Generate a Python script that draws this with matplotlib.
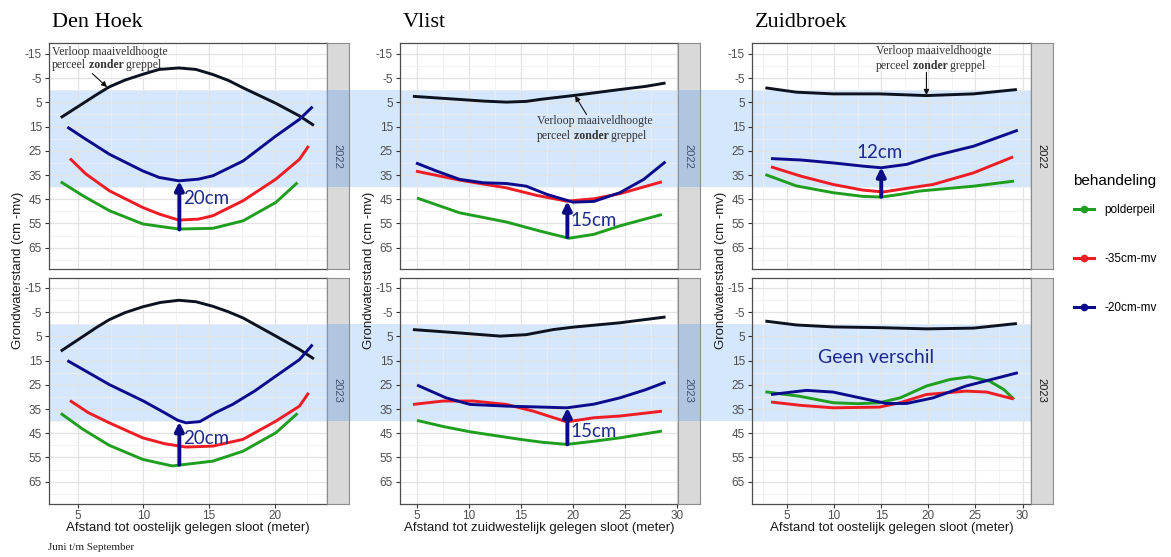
import matplotlib
matplotlib.use("Agg")
import matplotlib.pyplot as plt
from matplotlib.lines import Line2D
from matplotlib.patches import Rectangle
from matplotlib.transforms import blended_transform_factory

W, H = 1171, 557
plt.rcParams['font.family'] = ['Liberation Sans', 'DejaVu Sans']
plt.rcParams['axes.unicode_minus'] = False

GREEN, RED, BLUE, BLACK = '#1f9e1f', '#ee1c24', '#0b0b8c', '#0c1220'
NAVY_TXT = '#1d2a8c'

# ---------------- data ----------------
# Den Hoek 2022
dh22_mv_x = [3.7, 5.4, 6.4, 7.4, 8.6, 9.9, 11.2, 12.7, 14.0, 15.3, 16.5, 17.6, 20.1, 21.9, 23.0]
dh22_mv_y = [11.3, 5.4, 1.9, -1.4, -4.2, -6.5, -8.6, -9.2, -8.6, -6.5, -4.0, -1.0, 5.4, 10.6, 14.5]
dh22_b_x = [4.2, 5.4, 7.4, 9.95, 11.2, 12.7, 14.2, 15.3, 17.6, 20.1, 21.9, 22.9]
dh22_b_y = [15.2, 19.5, 26.4, 33.3, 36.0, 37.4, 36.7, 35.3, 29.2, 18.9, 12.0, 6.8]
dh22_r_x = [4.4, 5.6, 7.4, 9.95, 11.2, 12.7, 14.2, 15.3, 17.6, 20.1, 21.9, 22.6]
dh22_r_y = [28.2, 34.5, 41.5, 48.4, 51.1, 53.6, 53.2, 51.8, 45.6, 36.7, 28.5, 23.0]
dh22_g_x = [3.7, 5.4, 7.4, 9.95, 12.7, 15.3, 17.6, 20.1, 21.75]
dh22_g_y = [37.8, 43.6, 49.7, 55.2, 57.3, 57.0, 53.9, 46.3, 38.1]
# Den Hoek 2023
dh23_mv_x = [3.7, 5.4, 6.4, 7.4, 8.6, 9.95, 11.3, 12.7, 14.0, 15.3, 16.5, 17.6, 20.1, 21.9, 23.0]
dh23_mv_y = [11.1, 5.0, 1.4, -1.9, -4.8, -7.2, -9.0, -9.9, -9.3, -7.4, -5.1, -2.6, 4.9, 10.4, 14.3]
dh23_b_x = [4.2, 5.4, 7.4, 10.0, 11.7, 12.6, 13.25, 14.3, 15.5, 16.8, 18.5, 20.1, 21.9, 22.9]
dh23_b_y = [15.0, 18.7, 24.9, 31.7, 36.8, 39.6, 40.7, 40.2, 36.5, 33.1, 27.5, 21.4, 14.6, 8.4]
dh23_r_x = [4.4, 5.8, 7.4, 9.95, 11.6, 13.25, 15.3, 17.6, 20.1, 21.9, 22.6]
dh23_r_y = [31.5, 36.5, 40.7, 46.9, 49.3, 50.7, 50.3, 47.5, 40.0, 33.8, 28.3]
dh23_g_x = [3.7, 5.4, 7.4, 9.95, 12.2, 15.3, 17.6, 20.1, 21.75]
dh23_g_y = [36.8, 43.4, 50.0, 55.8, 58.5, 56.5, 52.4, 44.8, 36.8]

# Vlist 2022
vl22_mv_x = [4.6, 7.0, 9.1, 11.5, 13.6, 15.5, 17.0, 20.0, 22.0, 24.5, 27.0, 28.9]
vl22_mv_y = [2.5, 3.2, 3.8, 4.5, 4.9, 4.6, 3.7, 2.2, 1.1, -0.3, -1.6, -3.0]
vl22_b_x = [4.9, 6.9, 9.1, 11.4, 13.6, 15.5, 17.5, 20.0, 22.0, 24.5, 26.8, 28.9]
vl22_b_y = [30.0, 33.4, 36.8, 38.2, 38.5, 39.6, 43.0, 46.2, 45.9, 42.3, 36.8, 29.5]
vl22_r_x = [4.9, 9.1, 13.6, 16.5, 19.4, 22.0, 24.5, 28.55]
vl22_r_y = [33.4, 37.1, 40.3, 43.4, 45.8, 44.8, 42.7, 37.8]
vl22_g_x = [5.0, 9.1, 13.6, 16.8, 19.6, 22.0, 24.5, 28.55]
vl22_g_y = [44.5, 50.6, 54.4, 58.1, 61.1, 59.5, 56.0, 51.3]
# Vlist 2023
vl23_mv_x = [4.6, 9.1, 13.0, 15.5, 18.1, 20.0, 24.5, 28.9]
vl23_mv_y = [2.2, 3.6, 4.9, 4.3, 2.2, 1.2, -0.6, -3.0]
vl23_b_x = [5.0, 7.8, 10.1, 13.6, 17.0, 19.4, 22.0, 24.5, 27.0, 28.9]
vl23_b_y = [25.1, 30.4, 33.1, 33.8, 34.2, 34.5, 33.0, 30.4, 27.0, 23.9]
vl23_r_x = [4.6, 7.5, 10.4, 13.6, 16.2, 19.4, 22.0, 24.5, 28.55]
vl23_r_y = [33.1, 31.7, 31.7, 33.1, 35.9, 40.3, 38.6, 37.9, 35.9]
vl23_g_x = [5.0, 7.5, 10.1, 14.9, 17.0, 19.4, 22.0, 24.5, 28.55]
vl23_g_y = [39.7, 42.2, 44.4, 47.5, 48.7, 49.6, 48.3, 46.9, 44.1]

# Zuidbroek 2022
zb22_mv_x = [2.7, 6.0, 9.9, 14.8, 19.8, 24.8, 29.4]
zb22_mv_y = [-1.0, 0.8, 1.5, 1.5, 2.2, 1.5, -0.3]
zb22_b_x = [3.3, 6.5, 9.9, 13.0, 15.0, 17.7, 20.5, 24.8, 29.5]
zb22_b_y = [28.2, 28.8, 30.0, 31.3, 32.0, 30.6, 27.2, 23.1, 16.5]
zb22_r_x = [3.3, 6.5, 9.9, 13.0, 15.2, 17.7, 20.5, 24.8, 29.0]
zb22_r_y = [31.6, 35.5, 38.9, 41.2, 42.0, 40.5, 38.9, 34.1, 27.5]
zb22_g_x = [2.7, 6.0, 9.9, 13.0, 15.0, 17.0, 19.1, 24.8, 29.1]
zb22_g_y = [34.8, 39.5, 42.3, 43.8, 44.1, 43.0, 41.6, 39.6, 37.5]
# Zuidbroek 2023
zb23_mv_x = [2.7, 6.0, 9.9, 14.8, 19.8, 24.8, 29.4]
zb23_mv_y = [-1.3, 0.3, 1.1, 1.4, 1.9, 1.6, -0.3]
zb23_b_x = [3.3, 7.05, 9.9, 12.4, 15.55, 17.7, 20.5, 24.0, 29.5]
zb23_b_y = [29.0, 27.3, 28.0, 30.1, 32.7, 32.7, 30.4, 25.5, 20.0]
zb23_r_x = [3.3, 6.5, 9.9, 14.8, 17.0, 19.8, 24.0, 26.2, 29.0]
zb23_r_y = [32.1, 33.5, 34.5, 34.2, 32.4, 29.0, 27.6, 28.0, 30.8]
zb23_g_x = [2.7, 6.3, 9.9, 12.5, 14.8, 17.0, 19.8, 22.3, 24.4, 26.5, 28.0, 29.1]
zb23_g_y = [27.9, 29.7, 32.4, 32.8, 32.4, 30.4, 25.5, 22.8, 21.7, 23.5, 26.9, 31.0]

sites = ['Den Hoek', 'Vlist', 'Zuidbroek']
years = ['2022', '2023']
labels = ['polderpeil', '-35cm-mv', '-20cm-mv']
xlabels = ['Afstand tot oostelijk gelegen sloot (meter)',
           'Afstand tot zuidwestelijk gelegen sloot (meter)',
           'Afstand tot oostelijk gelegen sloot (meter)']

panels = {
    ('Den Hoek', '2022'): [(dh22_mv_x, dh22_mv_y), (dh22_g_x, dh22_g_y), (dh22_r_x, dh22_r_y), (dh22_b_x, dh22_b_y)],
    ('Den Hoek', '2023'): [(dh23_mv_x, dh23_mv_y), (dh23_g_x, dh23_g_y), (dh23_r_x, dh23_r_y), (dh23_b_x, dh23_b_y)],
    ('Vlist', '2022'): [(vl22_mv_x, vl22_mv_y), (vl22_g_x, vl22_g_y), (vl22_r_x, vl22_r_y), (vl22_b_x, vl22_b_y)],
    ('Vlist', '2023'): [(vl23_mv_x, vl23_mv_y), (vl23_g_x, vl23_g_y), (vl23_r_x, vl23_r_y), (vl23_b_x, vl23_b_y)],
    ('Zuidbroek', '2022'): [(zb22_mv_x, zb22_mv_y), (zb22_g_x, zb22_g_y), (zb22_r_x, zb22_r_y), (zb22_b_x, zb22_b_y)],
    ('Zuidbroek', '2023'): [(zb23_mv_x, zb23_mv_y), (zb23_g_x, zb23_g_y), (zb23_r_x, zb23_r_y), (zb23_b_x, zb23_b_y)],
}
# verschil-pijlen: x, van, tot, tekst, tekst-x, tekst-y, uitlijning
arrows = {
    ('Den Hoek', '2022'): (12.74, 57.5, 37.5, '20cm', 13.05, 44.5, 'left'),
    ('Den Hoek', '2023'): (12.74, 58.0, 40.3, '20cm', 13.05, 47.3, 'left'),
    ('Vlist', '2022'): (19.46, 60.6, 45.8, '15cm', 19.8, 53.7, 'left'),
    ('Vlist', '2023'): (19.46, 49.6, 34.5, '15cm', 19.8, 44.4, 'left'),
    ('Zuidbroek', '2022'): (15.0, 44.0, 31.8, '12cm', 14.85, 25.8, 'center'),
}

xlims = {'Den Hoek': (2.8, 24.0), 'Vlist': (3.36, 30.1), 'Zuidbroek': (1.28, 30.9)}
xticks = {'Den Hoek': [5, 10, 15, 20], 'Vlist': [5, 10, 15, 20, 25, 30], 'Zuidbroek': [5, 10, 15, 20, 25, 30]}
yticks = [-15, -5, 5, 15, 25, 35, 45, 55, 65]

# pixel layout
col_left = {'Den Hoek': 49, 'Vlist': 400, 'Zuidbroek': 752}
col_w = {'Den Hoek': 278, 'Vlist': 278, 'Zuidbroek': 279}
row_top = {'2022': 43.5, '2023': 277.5}
row_h = 226
strip_w = 21.5

fig = plt.figure(figsize=(W / 100, H / 100), dpi=100)


def fbox(l, t, w, h):
    return [l / W, 1 - (t + h) / H, w / W, h / H]


def note(ax, x, y1, y2):
    kw = dict(family='Liberation Serif', fontsize=8.5, color='#333333', zorder=6)
    ax.text(x, y1, 'Verloop maaiveldhoogte', ha='left', va='center', **kw)
    t = ax.text(x, y2, 'perceel', ha='left', va='center', **kw)
    t = ax.annotate(' zonder', xy=(1, 0), xycoords=t, va='bottom', fontweight='bold', **kw)
    ax.annotate(' greppel', xy=(1, 0), xycoords=t, va='bottom', **kw)


axes = {}
for site in sites:
    for year in years:
        ax = fig.add_axes(fbox(col_left[site], row_top[year], col_w[site], row_h))
        axes[(site, year)] = ax
        ax.set_facecolor('none')
        ax.set_xlim(*xlims[site])
        ax.set_ylim(74.0, -19.3)
        ax.set_xticks(xticks[site])
        ax.set_xticks([v + 2.5 for v in range(0, 31, 5) if xlims[site][0] < v + 2.5 < xlims[site][1]], minor=True)
        ax.set_yticks(yticks)
        ax.set_yticks(range(-10, 71, 10), minor=True)
        ax.grid(which='major', color='#e3e3e3', lw=0.9)
        ax.grid(which='minor', color='#efefef', lw=0.5)
        ax.set_axisbelow(True)
        ax.tick_params(which='major', length=3, width=0.8, color='#333333',
                       labelcolor='#4d4d4d', labelsize=8.5, pad=2)
        ax.tick_params(which='minor', length=0)
        for sp in ax.spines.values():
            sp.set_color('#4d4d4d')
            sp.set_linewidth(0.9)
        if year == '2022':
            ax.tick_params(axis='x', bottom=False, labelbottom=False)

        for (x, y), c in zip(panels[(site, year)], [BLACK, GREEN, RED, BLUE]):
            ax.plot(x, y, color=c, lw=2.1, solid_capstyle='butt', zorder=3)

        if (site, year) in arrows:
            ax_x, y0, y1, txt, tx, ty, ha = arrows[(site, year)]
            ax.annotate('', xy=(ax_x, y1), xytext=(ax_x, y0),
                        arrowprops=dict(arrowstyle='-|>', lw=2.8, color='#0a0a85',
                                        mutation_scale=13, shrinkA=0, shrinkB=0), zorder=5)
            ax.text(tx, ty, txt, ha=ha, va='center', family='Lato', fontsize=13.5,
                    color=NAVY_TXT, zorder=6)

        # strip
        sax = fig.add_axes(fbox(col_left[site] + col_w[site], row_top[year], strip_w, row_h))
        sax.set_facecolor('#d9d9d9')
        sax.set_xticks([])
        sax.set_yticks([])
        for sp in sax.spines.values():
            sp.set_color('#8c8c8c')
            sp.set_linewidth(0.8)
        sax.text(0.5, 0.5, year, rotation=270, ha='center', va='center',
                 fontsize=8, color='#1a1a1a', transform=sax.transAxes)

    fig.text((col_left[site] + 3) / W, 1 - 27 / H, site, family='Liberation Serif',
             fontsize=16, va='baseline', ha='left')
    fig.text((col_left[site] + col_w[site] / 2) / W, 1 - 528 / H, xlabels[sites.index(site)],
             ha='center', va='center', fontsize=9.5, color='#1a1a1a')
    fig.text((col_left[site] - 31) / W, 1 - 270 / H, 'Grondwaterstand (cm -mv)', rotation=90,
             ha='center', va='center', fontsize=9.5, color='#1a1a1a')

# aantekeningen maaiveld
note(axes[('Den Hoek', '2022')], 3.0, -15.9, -10.5)
axes[('Den Hoek', '2022')].annotate('', xy=(7.23, -1.3), xytext=(6.1, -6.9),
                                    arrowprops=dict(arrowstyle='-|>', lw=0.8, color='#111111',
                                                    mutation_scale=8, shrinkA=0, shrinkB=0), zorder=6)
note(axes[('Vlist', '2022')], 16.5, 12.8, 19.0)
axes[('Vlist', '2022')].annotate('', xy=(20.2, 2.3), xytext=(21.3, 10.0),
                                 arrowprops=dict(arrowstyle='-|>', lw=0.8, color='#111111',
                                                 mutation_scale=8, shrinkA=0, shrinkB=0), zorder=6)
note(axes[('Zuidbroek', '2022')], 14.4, -16.1, -9.9)
axes[('Zuidbroek', '2022')].annotate('', xy=(19.8, 2.0), xytext=(19.8, -7.4),
                                     arrowprops=dict(arrowstyle='-|>', lw=0.8, color='#111111',
                                                     mutation_scale=8, shrinkA=0, shrinkB=0), zorder=6)
axes[('Zuidbroek', '2023')].text(14.4, 13.6, 'Geen verschil', ha='center', va='center',
                                 family='Lato', fontsize=14, color=NAVY_TXT, zorder=6)

# blauwe band 0-40 cm over alle panelen (achter de lijnen), plus over de strips
for year in years:
    tr = blended_transform_factory(fig.transFigure, axes[('Den Hoek', year)].transData)
    fig.add_artist(Rectangle((49 / W, 0), (1032 - 49) / W, 40, transform=tr,
                             facecolor='#d4e7fc', edgecolor='none', zorder=-1))
    for site in ['Den Hoek', 'Vlist']:
        x0 = col_left[site] + col_w[site]
        fig.add_artist(Rectangle((x0 / W, 0), strip_w / W, 40, transform=tr,
                                 facecolor=(0.45, 0.66, 0.93), alpha=0.4, edgecolor='none', zorder=10))

# legenda (titel los, zodat de regelafstand los van de titel staat)
fig.text(1073 / W, 1 - 181 / H, 'behandeling', fontsize=11, va='center', ha='left')
handles = [Line2D([], [], color=c, lw=2.2, marker='o', markersize=4.5) for c in [GREEN, RED, BLUE]]
fig.legend(handles, labels, loc='upper left', bbox_to_anchor=(1068 / W, 1 - 198 / H),
           frameon=False, fontsize=8.5, labelspacing=3.14, handlelength=1.7,
           handletextpad=0.9, borderpad=0)

fig.text(48 / W, 1 - 548 / H, 'Juni t/m September', family='Liberation Serif',
         fontsize=8, va='center', ha='left', color='#222222')

fig.savefig('out.png', dpi=100)
